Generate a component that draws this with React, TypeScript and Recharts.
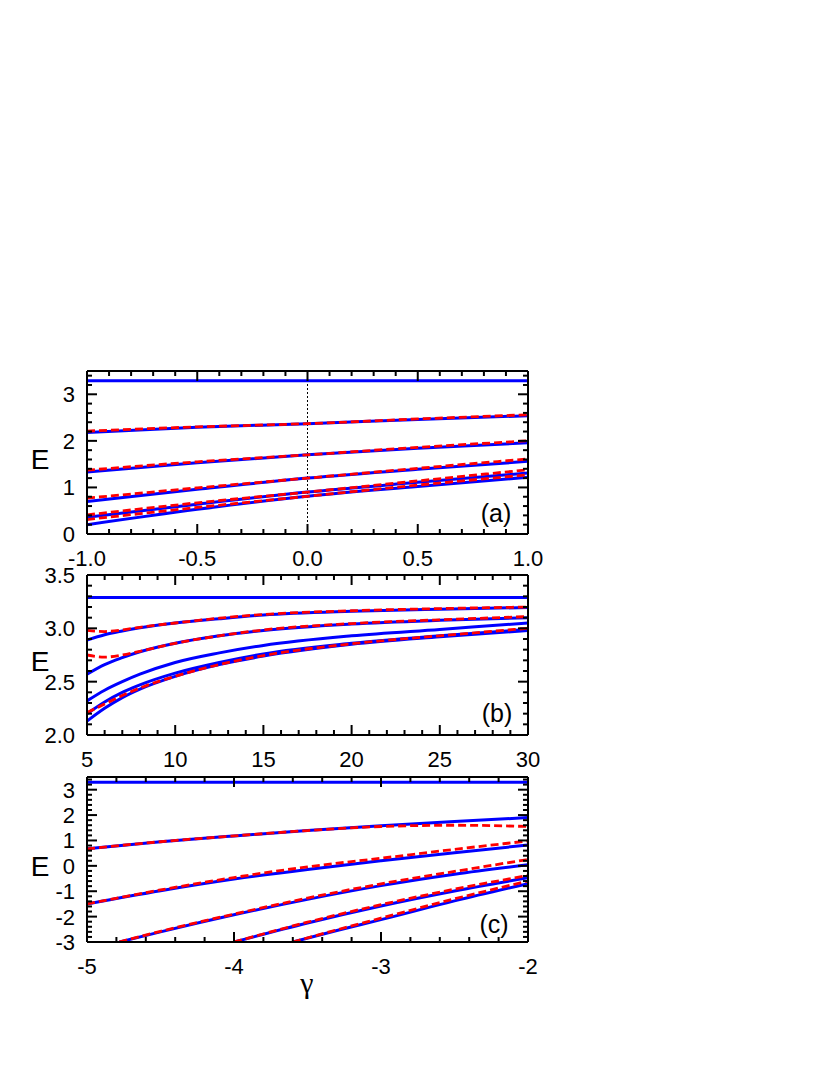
import React from 'react';
import { LineChart, Line, XAxis, YAxis, ReferenceLine } from 'recharts';

// panel (a): gamma in [-1, 1]
const gammaA = [-1, -0.5, 0, 0.5, 1];
const blueA = [
  [3.29, 3.29, 3.29, 3.29, 3.29],
  [2.18, 2.29, 2.37, 2.46, 2.54],
  [1.33, 1.53, 1.7, 1.84, 1.96],
  [0.7, 0.96, 1.2, 1.39, 1.56],
  [0.36, 0.64, 0.9, 1.11, 1.31],
  [0.2, 0.53, 0.81, 1.02, 1.22],
];
const redA = [
  [2.21, 2.3, 2.37, 2.47, 2.56],
  [1.37, 1.55, 1.7, 1.86, 2.0],
  [0.77, 0.99, 1.2, 1.41, 1.61],
  [0.41, 0.67, 0.9, 1.14, 1.38],
  [0.31, 0.57, 0.81, 1.05, 1.27],
];

// panel (b): gamma in [5, 30]
const gammaB = [5, 6, 7, 8, 10, 12.5, 15, 20, 25, 30];
const blueB = [
  [3.29, 3.29, 3.29, 3.29, 3.29, 3.29, 3.29, 3.29, 3.29, 3.29],
  [2.89, 2.94, 2.975, 3.005, 3.05, 3.09, 3.125, 3.16, 3.18, 3.195],
  [2.57, 2.66, 2.725, 2.78, 2.86, 2.93, 2.98, 3.04, 3.075, 3.1],
  [2.32, 2.42, 2.5, 2.57, 2.68, 2.77, 2.84, 2.93, 2.99, 3.05],
  [2.2, 2.31, 2.4, 2.47, 2.58, 2.68, 2.76, 2.86, 2.93, 2.99],
  [2.13, 2.25, 2.35, 2.43, 2.55, 2.66, 2.74, 2.85, 2.92, 2.98],
];
const redB = [
  [2.98, 2.97, 2.985, 3.01, 3.05, 3.095, 3.13, 3.165, 3.185, 3.2],
  [2.75, 2.73, 2.75, 2.785, 2.86, 2.93, 2.985, 3.045, 3.08, 3.11],
  [2.21, 2.29, 2.37, 2.44, 2.55, 2.66, 2.745, 2.855, 2.93, 3.0],
];

// panel (c): gamma in [-5, -2]
const gammaC = [-5, -4.5, -4, -3.5, -3, -2.5, -2];
const gammaC4 = [-4.78, -4.5, -4, -3.5, -3, -2.5, -2];
const gammaC5 = [-4, -3.5, -3, -2.5, -2];
const gammaC6 = [-3.6, -3.3, -3, -2.5, -2];
const blueC1 = [3.29, 3.29, 3.29, 3.29, 3.29, 3.29, 3.29];
const blueC2 = [0.67, 0.95, 1.18, 1.39, 1.58, 1.75, 1.9];
const blueC3 = [-1.5, -0.98, -0.52, -0.14, 0.2, 0.52, 0.82];
const blueC4 = [-3, -2.6, -1.93, -1.32, -0.78, -0.33, 0.04];
const blueC5 = [-3, -2.25, -1.58, -0.99, -0.47];
const blueC6 = [-3, -2.55, -2.12, -1.38, -0.7];
const redC2 = [0.67, 0.95, 1.18, 1.39, 1.55, 1.6, 1.55];
const redC3 = [-1.5, -0.95, -0.46, -0.04, 0.3, 0.65, 0.98];
const redC4 = [-3, -2.58, -1.9, -1.27, -0.71, -0.22, 0.25];
const redC5 = [-3, -2.22, -1.53, -0.92, -0.38];
const redC6 = [-3, -2.52, -2.06, -1.3, -0.6];

const FONT = '"Liberation Sans", Arial, sans-serif';
const BLUE = '#0000ff';
const RED = '#ff0000';

type Pt = { x: number; y: number };
type Side = 'bottom' | 'top' | 'left' | 'right';

const pts = (xs: number[], ys: number[]): Pt[] => xs.map((x, i) => ({ x, y: ys[i] }));

const range = (a: number, b: number, step: number) => {
  const out: number[] = [];
  const n = Math.round((b - a) / step);
  for (let i = 0; i <= n; i++) out.push(Math.round((a + i * step) * 1000) / 1000);
  return out;
};

const isMajor = (v: number, step: number) => Math.abs(v / step - Math.round(v / step)) < 1e-6;

const renderTick = (p: any, side: Side, majorStep: number, fmt: ((v: number) => string) | null) => {
  const v = p.payload.value as number;
  const major = isMajor(v, majorStep);
  const len = major ? 10 : 5;
  const { x, y } = p;
  const ln = { stroke: '#000', strokeWidth: 2 };
  let line = null;
  let label = null;
  if (side === 'bottom') {
    line = <line x1={x} x2={x} y1={y} y2={y - len} {...ln} />;
    if (major && fmt)
      label = (
        <text x={x} y={y + 32} textAnchor="middle" fontFamily={FONT} fontSize={22} fill="#000">
          {fmt(v)}
        </text>
      );
  } else if (side === 'top') {
    line = <line x1={x} x2={x} y1={y} y2={y + len} {...ln} />;
  } else if (side === 'left') {
    line = <line x1={x} x2={x + len} y1={y} y2={y} {...ln} />;
    if (major && fmt)
      label = (
        <text x={x - 12} y={y} dy="0.36em" textAnchor="end" fontFamily={FONT} fontSize={22} fill="#000">
          {fmt(v)}
        </text>
      );
  } else {
    line = <line x1={x} x2={x - len} y1={y} y2={y} {...ln} />;
  }
  return (
    <g>
      {line}
      {label}
    </g>
  );
};

interface PanelProps {
  top: number;
  plotH: number;
  xDomain: [number, number];
  xTicks: number[];
  xMajor: number;
  xFmt: (v: number) => string;
  yDomain: [number, number];
  yTicks: number[];
  yMajor: number;
  yFmt: (v: number) => string;
  blue: Pt[][];
  red: Pt[][];
  zeroLine?: boolean;
}

const W = 560;

function Panel(props: PanelProps) {
  const { top, plotH, xDomain, xTicks, xMajor, xFmt, yDomain, yTicks, yMajor, yFmt, blue, red, zeroLine } = props;
  const axisLine = { stroke: '#000', strokeWidth: 2 };
  return (
    <div style={{ position: 'absolute', left: 0, top: top - 20 }}>
      <LineChart width={W} height={plotH + 70} margin={{ top: 10, right: 22, bottom: 10, left: 27 }}>
        <XAxis
          xAxisId="b"
          type="number"
          dataKey="x"
          domain={xDomain}
          ticks={xTicks}
          interval={0}
          allowDataOverflow
          height={40}
          tickSize={0}
          tickMargin={0}
          tickLine={false}
          axisLine={axisLine}
          tick={(p: any) => renderTick(p, 'bottom', xMajor, xFmt)}
        />
        <XAxis
          xAxisId="t"
          orientation="top"
          type="number"
          dataKey="x"
          domain={xDomain}
          ticks={xTicks}
          interval={0}
          allowDataOverflow
          height={10}
          tickSize={0}
          tickMargin={0}
          tickLine={false}
          axisLine={axisLine}
          tick={(p: any) => renderTick(p, 'top', xMajor, null)}
        />
        <YAxis
          yAxisId="l"
          type="number"
          dataKey="y"
          domain={yDomain}
          ticks={yTicks}
          interval={0}
          allowDataOverflow
          width={60}
          tickSize={0}
          tickMargin={0}
          tickLine={false}
          axisLine={axisLine}
          tick={(p: any) => renderTick(p, 'left', yMajor, yFmt)}
        />
        <YAxis
          yAxisId="r"
          orientation="right"
          type="number"
          dataKey="y"
          domain={yDomain}
          ticks={yTicks}
          interval={0}
          allowDataOverflow
          width={10}
          tickSize={0}
          tickMargin={0}
          tickLine={false}
          axisLine={axisLine}
          tick={(p: any) => renderTick(p, 'right', yMajor, null)}
        />
        {zeroLine && (
          <ReferenceLine xAxisId="b" yAxisId="l" x={0} stroke="#000" strokeWidth={1} strokeDasharray="2 2" />
        )}
        <Line
          xAxisId="t"
          yAxisId="r"
          data={blue[0]}
          dataKey="y"
          stroke="none"
          dot={false}
          activeDot={false}
          isAnimationActive={false}
        />
        {blue.map((d, i) => (
          <Line
            key={'b' + i}
            xAxisId="b"
            yAxisId="l"
            data={d}
            dataKey="y"
            type="monotone"
            stroke={BLUE}
            strokeWidth={3}
            dot={false}
            activeDot={false}
            isAnimationActive={false}
          />
        ))}
        {red.map((d, i) => (
          <Line
            key={'r' + i}
            xAxisId="b"
            yAxisId="l"
            data={d}
            dataKey="y"
            type="monotone"
            stroke={RED}
            strokeWidth={2.8}
            strokeDasharray="8 4"
            dot={false}
            activeDot={false}
            isAnimationActive={false}
          />
        ))}
      </LineChart>
    </div>
  );
}

const txt = { fontFamily: FONT, fill: '#000' };

export default function App() {
  const fmt1 = (v: number) => v.toFixed(1);
  const fmt0 = (v: number) => String(v);
  return (
    <div style={{ position: 'absolute', left: 0, top: 0, width: 830, height: 1075, background: '#fff' }}>
      <Panel
        top={371}
        plotH={163}
        xDomain={[-1, 1]}
        xTicks={range(-1, 1, 0.1)}
        xMajor={0.5}
        xFmt={fmt1}
        yDomain={[0, 3.5]}
        yTicks={range(0, 3.4, 0.2)}
        yMajor={1}
        yFmt={fmt0}
        blue={blueA.map((ys) => pts(gammaA, ys))}
        red={redA.map((ys) => pts(gammaA, ys))}
        zeroLine
      />
      <Panel
        top={575}
        plotH={160}
        xDomain={[5, 30]}
        xTicks={range(5, 30, 1)}
        xMajor={5}
        xFmt={fmt0}
        yDomain={[2, 3.5]}
        yTicks={range(2, 3.5, 0.1)}
        yMajor={0.5}
        yFmt={fmt1}
        blue={blueB.map((ys) => pts(gammaB, ys))}
        red={redB.map((ys) => pts(gammaB, ys))}
      />
      <Panel
        top={777}
        plotH={165}
        xDomain={[-5, -2]}
        xTicks={range(-5, -2, 0.2)}
        xMajor={1}
        xFmt={fmt0}
        yDomain={[-3, 3.5]}
        yTicks={range(-3, 3.4, 0.2)}
        yMajor={1}
        yFmt={fmt0}
        blue={[
          pts(gammaC, blueC1),
          pts(gammaC, blueC2),
          pts(gammaC, blueC3),
          pts(gammaC4, blueC4),
          pts(gammaC5, blueC5),
          pts(gammaC6, blueC6),
        ]}
        red={[
          pts(gammaC, redC2),
          pts(gammaC, redC3),
          pts(gammaC4, redC4),
          pts(gammaC5, redC5),
          pts(gammaC6, redC6),
        ]}
      />
      <svg width={830} height={1075} style={{ position: 'absolute', left: 0, top: 0, pointerEvents: 'none' }}>
        <text x={40} y={469} textAnchor="middle" fontSize={28} {...txt}>E</text>
        <text x={40} y={671} textAnchor="middle" fontSize={28} {...txt}>E</text>
        <text x={40} y={876} textAnchor="middle" fontSize={28} {...txt}>E</text>
        <text x={307} y={993} textAnchor="middle" fontSize={30} fontFamily='"Liberation Serif", "DejaVu Serif", serif' fill="#000">γ</text>
        <text x={496} y={522} textAnchor="middle" fontSize={25} {...txt}>(a)</text>
        <text x={497} y={722} textAnchor="middle" fontSize={25} {...txt}>(b)</text>
        <text x={494} y={933} textAnchor="middle" fontSize={25} {...txt}>(c)</text>
      </svg>
    </div>
  );
}
